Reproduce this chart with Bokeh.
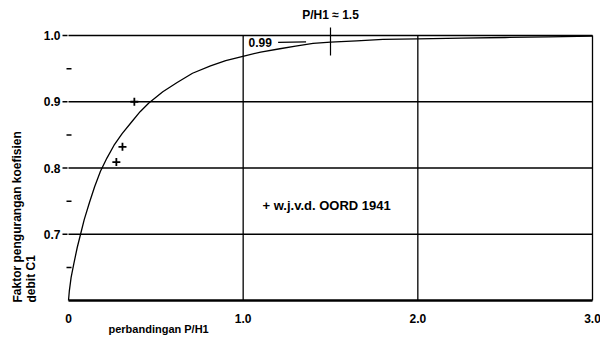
from bokeh.plotting import figure
from bokeh.models import Range1d
from bokeh.core.properties import value
from bokeh.embed import file_html
from bokeh.resources import INLINE

# curve
curve_x = [0.0, 0.005, 0.015, 0.03, 0.05, 0.069, 0.09, 0.12, 0.15, 0.183, 0.22, 0.26, 0.307,
           0.36, 0.41, 0.46, 0.54, 0.622, 0.71, 0.813, 0.9, 1.004, 1.1, 1.21, 1.3, 1.4, 1.5,
           1.65, 1.8, 2.0, 2.25, 2.5, 2.75, 3.0]
curve_y = [0.600, 0.615, 0.635, 0.655, 0.680, 0.700, 0.722, 0.748, 0.772, 0.795, 0.815, 0.834, 0.852,
           0.869, 0.885, 0.898, 0.915, 0.929, 0.943, 0.954, 0.962, 0.969, 0.975, 0.980, 0.984, 0.988, 0.990,
           0.992, 0.994, 0.995, 0.996, 0.997, 0.998, 0.999]

# measured points (w.j.v.d. OORD 1941)
pts_x = [0.377, 0.309, 0.274]
pts_y = [0.90, 0.832, 0.809]

y_major = [0.7, 0.8, 0.9, 1.0]
y_major_labels = ["0.7", "0.8", "0.9", "1.0"]
y_minor = [0.65, 0.75, 0.85, 0.95]
x_major = [0.0, 1.0, 2.0, 3.0]
x_major_labels = ["0", "1.0", "2.0", "3.0"]

FONT = "Liberation Sans"
W, H = 600, 341
L, R, T, B = 68, 8, 35, 41          # pixel margins around the 0..3 x 0.6..1.0 region
XPX = (W - L - R) / 3.0             # pixels per x unit
YPX = (H - T - B) / 0.4             # pixels per y unit


def dx(px):
    return px / XPX


def dy(px):
    return px / YPX


p = figure(width=W, height=H, output_backend="svg", toolbar_location=None,
           x_axis_location=None, y_axis_location=None,
           x_range=Range1d(0 - dx(L), 3.0 + dx(R)),
           y_range=Range1d(0.6 - dy(B), 1.0 + dy(T)),
           min_border=0)
p.outline_line_color = None
p.xgrid.visible = False
p.ygrid.visible = False

# grid lines (horizontal from x=0 to 3, vertical from 0.6 to 1.0)
p.segment(x0=[0.0] * len(y_major), y0=y_major, x1=[3.0] * len(y_major), y1=y_major,
          line_color="black", line_width=1.6)
vx = x_major[1:]
p.segment(x0=vx, y0=[0.6] * len(vx), x1=vx, y1=[1.0] * len(vx),
          line_color="black", line_width=1.3)
# bottom axis line
p.segment(x0=[0.0], y0=[0.6], x1=[3.0], y1=[0.6], line_color="black", line_width=2.5)

# left ticks
p.segment(x0=[-dx(6)] * len(y_major), y0=y_major, x1=[-dx(1)] * len(y_major), y1=y_major,
          line_color="black", line_width=1.5)
p.segment(x0=[-dx(2)] * len(y_minor), y0=y_minor, x1=[dx(3)] * len(y_minor), y1=y_minor,
          line_color="black", line_width=1.5)

# tick labels
p.text(x=[-dx(8)] * len(y_major), y=y_major, text=y_major_labels,
       text_font=value(FONT), text_font_size="12px", text_font_style="bold",
       text_align="right", text_baseline="middle")
p.text(x=x_major, y=[0.6 - dy(18)] * len(x_major), text=x_major_labels,
       text_font=value(FONT), text_font_size="12px", text_font_style="bold",
       text_align="center", text_baseline="middle")

# curve
p.line(curve_x, curve_y, line_color="black", line_width=1.3)

# points
p.scatter(pts_x, pts_y, marker="cross", size=8, line_color="black", line_width=1.8)

# annotations
p.segment(x0=[1.5], y0=[0.970], x1=[1.5], y1=[1.012], line_color="black", line_width=1.2)
p.segment(x0=[1.2], y0=[0.9895], x1=[1.36], y1=[0.9905], line_color="black", line_width=1.2)

p.text(x=[1.5], y=[1.0 + dy(21)], text=["P/H1 \u2248 1.5"], text_font=value(FONT),
       text_font_size="12px", text_font_style="bold", text_align="center", text_baseline="middle")
p.text(x=[dx(180)], y=[0.99], text=["0.99"], text_font=value(FONT),
       text_font_size="12px", text_font_style="bold", text_align="left", text_baseline="middle")
p.text(x=[dx(194)], y=[0.743], text=["+ w.j.v.d. OORD 1941"], text_font=value(FONT),
       text_font_size="13px", text_font_style="bold", text_align="left", text_baseline="middle")
p.text(x=[dx(40)], y=[0.6 - dy(28)], text=["perbandingan P/H1"], text_font=value(FONT),
       text_font_size="11px", text_font_style="bold", text_align="left", text_baseline="middle")
p.text(x=[-dx(58)], y=[0.6 - dy(2)], text=["Faktor pengurangan koefisien\ndebit C1"], angle=1.5708,
       text_font=value(FONT), text_font_size="12px", text_font_style="bold",
       text_align="left", text_baseline="top", text_line_height=1.0)

open("out.html", "w").write(file_html(p, INLINE))
